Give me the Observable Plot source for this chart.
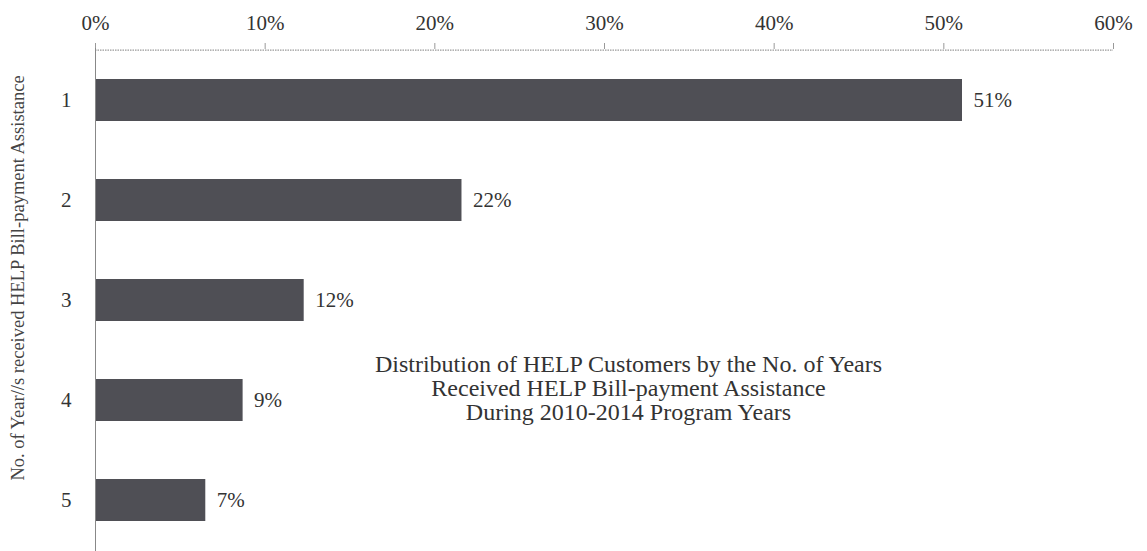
<!DOCTYPE html>
<html>
<head>
<meta charset="utf-8">
<script src="https://cdn.jsdelivr.net/npm/d3@7"></script>
<script src="https://cdn.jsdelivr.net/npm/@observablehq/plot@0.6"></script>
<style>
  html, body { margin: 0; padding: 0; background: #fff; }
</style>
</head>
<body>
<div id="chart"></div>
<script>
const years = ["1", "2", "3", "4", "5"];
const shares = [51.1, 21.6, 12.3, 8.7, 6.5];
const shareLabels = ["51%", "22%", "12%", "9%", "7%"];
const xTicks = [0, 10, 20, 30, 40, 50, 60];
const yTitle = "No. of Year//s received HELP Bill-payment Assistance";
const chartTitle = "Distribution of HELP Customers by the No. of Years\nReceived HELP Bill-payment Assistance\nDuring 2010-2014 Program Years";

const data = years.map((y, i) => ({year: y, share: shares[i], label: shareLabels[i]}));
const font = "'Liberation Serif', 'Times New Roman', serif";

const plot = Plot.plot({
  width: 1147,
  height: 551,
  marginLeft: 95,
  marginRight: 34,
  marginTop: 48,
  marginBottom: 0,
  style: {fontFamily: font, fontSize: "21px", color: "#333", background: "#fff"},
  x: {domain: [0, 60], axis: null},
  y: {domain: years, paddingInner: 0.58, paddingOuter: 0.29, axis: null},
  marks: [
    Plot.axisX({anchor: "top", ticks: xTicks, tickFormat: d => d + "%", tickSize: 6, tickPadding: 13, stroke: "#999", fontSize: 21, fill: "#333", label: null}),
    Plot.ruleY([years[0]], {dy: -50.3, stroke: "#999", strokeWidth: 1.3, strokeDasharray: "1.5,1"}),
    Plot.axisY({anchor: "left", tickSize: 0, tickPadding: 24, fontSize: 21, fill: "#333", label: null}),
    Plot.barX(data, {y: "year", x: "share", fill: "#4f4f55"}),
    Plot.ruleX([0], {stroke: "#888", strokeWidth: 1}),
    Plot.text(data, {y: "year", x: "share", text: "label", textAnchor: "start", dx: 11, fontSize: 21, fill: "#333"}),
    Plot.text([yTitle], {frameAnchor: "left", textAnchor: "middle", rotate: -90, dx: -77, dy: -22, fontSize: 18.5, fill: "#444"}),
    Plot.text([chartTitle], {frameAnchor: "middle", dx: 24, dy: 88, fontSize: 24, lineHeight: 1.0, fill: "#333"})
  ]
});
document.getElementById("chart").appendChild(plot);
</script>
</body>
</html>
